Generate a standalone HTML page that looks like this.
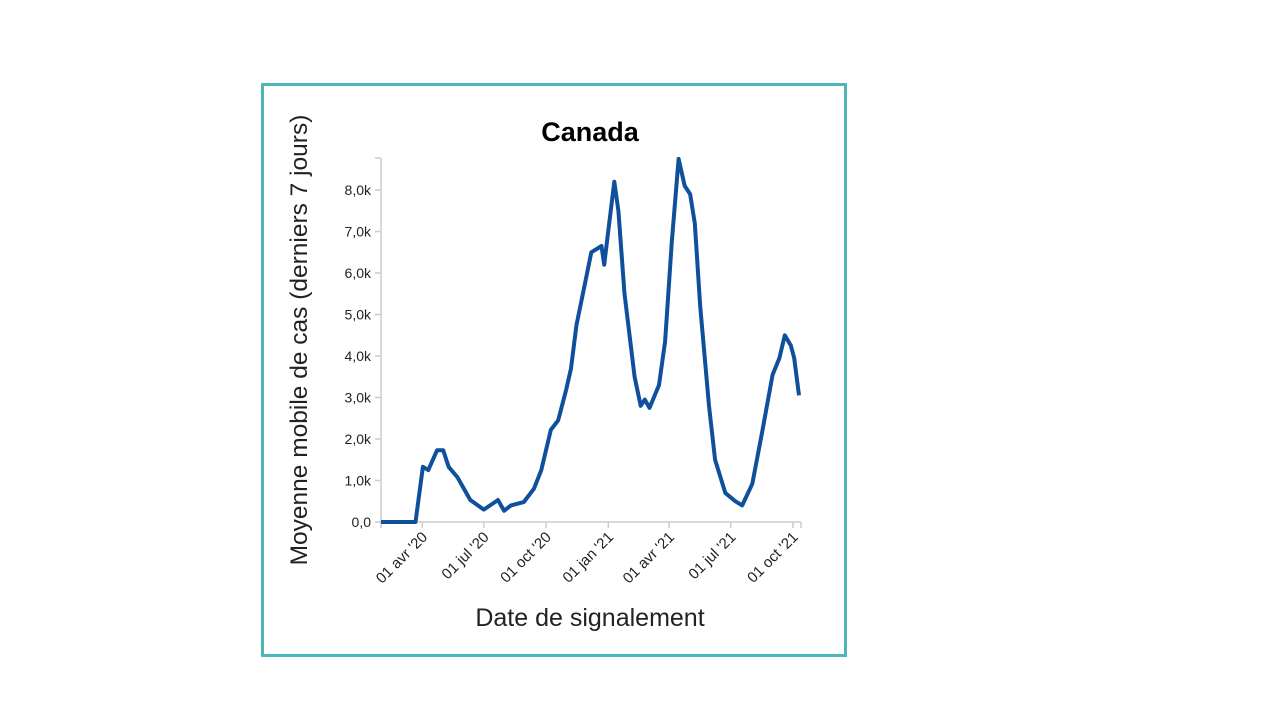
<!DOCTYPE html>
<html><head><meta charset="utf-8"><style>
body{margin:0;width:1280px;height:720px;background:#fff;overflow:hidden;font-family:"Liberation Sans",sans-serif}
#frame{position:absolute;left:261px;top:83px;width:580px;height:568px;border:3px solid #4db6b6}
</style></head><body>
<div id="frame"></div>
<svg id="chart" width="1280" height="720" style="position:absolute;left:0;top:0">
<text x="590" y="141" text-anchor="middle" font-size="27" font-weight="bold" fill="#000">Canada</text>
<text transform="translate(307,340) rotate(-90)" text-anchor="middle" font-size="24.5" fill="#222">Moyenne mobile de cas (derniers 7 jours)</text>
<text x="590" y="626" text-anchor="middle" font-size="25" fill="#222">Date de signalement</text>
<g id="axes"></g>
<g id="marks"></g>
</svg>
<script>
const dates=["2020-01-31","2020-03-22","2020-03-25","2020-04-02","2020-04-10","2020-04-23","2020-05-02","2020-05-10","2020-05-23","2020-06-11","2020-07-01","2020-07-22","2020-07-31","2020-08-10","2020-08-29","2020-09-13","2020-09-24","2020-10-08","2020-10-19","2020-10-31","2020-11-07","2020-11-15","2020-11-27","2020-12-07","2020-12-22","2020-12-26","2021-01-01","2021-01-10","2021-01-16","2021-01-25","2021-02-09","2021-02-18","2021-02-24","2021-03-03","2021-03-17","2021-03-26","2021-04-05","2021-04-15","2021-04-24","2021-05-02","2021-05-09","2021-05-17","2021-05-30","2021-06-08","2021-06-23","2021-07-08","2021-07-18","2021-08-02","2021-08-17","2021-09-01","2021-09-11","2021-09-19","2021-09-28","2021-10-03","2021-10-10"];
const cases=[0,0,360,1330,1250,1730,1730,1330,1080,530,300,530,270,400,480,800,1250,2220,2450,3200,3700,4750,5700,6500,6650,6200,7000,8200,7500,5500,3500,2800,2950,2750,3300,4350,6750,8750,8100,7900,7200,5200,2800,1500,700,500,400,920,2200,3550,3950,4500,4250,3950,3050];
const yTicks=[0,1000,2000,3000,4000,5000,6000,7000,8000];
const yTickLabels=["0,0","1,0k","2,0k","3,0k","4,0k","5,0k","6,0k","7,0k","8,0k"];
const xTicks=["2020-04-01","2020-07-01","2020-10-01","2021-01-01","2021-04-01","2021-07-01","2021-10-01"];
const xTickLabels=["01 avr '20","01 jul '20","01 oct '20","01 jan '21","01 avr '21","01 jul '21","01 oct '21"];
const t0=Date.parse("2020-01-31"),t1=Date.parse("2021-10-13");
const X0=381,X1=801,Y0=522,Ymax=158;
const x=d=>X0+(Date.parse(d)-t0)/(t1-t0)*(X1-X0);
const y=v=>Y0-v/8000*(Y0-190);
const NS="http://www.w3.org/2000/svg";
const axes=document.getElementById('axes'),marks=document.getElementById('marks');
function mk(tag,attrs,parent){const e=document.createElementNS(NS,tag);for(const k in attrs)e.setAttribute(k,attrs[k]);parent.appendChild(e);return e;}
let yl=mk('line',{x1:X0,y1:Ymax,x2:X0,y2:Y0,stroke:'#ccc','stroke-width':1.5},axes);


let xl=mk('line',{x1:X0,y1:Y0,x2:X1,y2:Y0,stroke:'#ccc','stroke-width':1.5},axes);


mk('line',{x1:X0-6,y1:Ymax,x2:X0,y2:Ymax,stroke:'#ccc','stroke-width':1.5},axes);
mk('line',{x1:X0,y1:Y0,x2:X0,y2:Y0+6,stroke:'#ccc','stroke-width':1.5},axes);
mk('line',{x1:X1,y1:Y0,x2:X1,y2:Y0+6,stroke:'#ccc','stroke-width':1.5},axes);
yTicks.forEach((v,i)=>{
  mk('line',{x1:X0-6,y1:y(v),x2:X0,y2:y(v),stroke:'#ccc','stroke-width':1.5},axes);
  const t=mk('text',{x:X0-10,y:y(v)+5,'text-anchor':'end','font-size':14,fill:'#222'},axes);
  t.textContent=yTickLabels[i];
  
  
});
xTicks.forEach((d,i)=>{
  const px=x(d);
  mk('line',{x1:px,y1:Y0,x2:px,y2:Y0+6,stroke:'#ccc','stroke-width':1.5},axes);
  const t=mk('text',{transform:`translate(${px+6},${Y0+16}) rotate(-45)`,'text-anchor':'end','font-size':15,fill:'#222'},axes);
  t.textContent=xTickLabels[i];
  
  
});
const p=mk('path',{d:dates.map((d,i)=>(i?'L':'M')+x(d).toFixed(1)+','+y(cases[i]).toFixed(1)).join(''),fill:'none',stroke:'#0f509c','stroke-width':4,'stroke-linejoin':'round'},marks);


</script>
</body></html>
